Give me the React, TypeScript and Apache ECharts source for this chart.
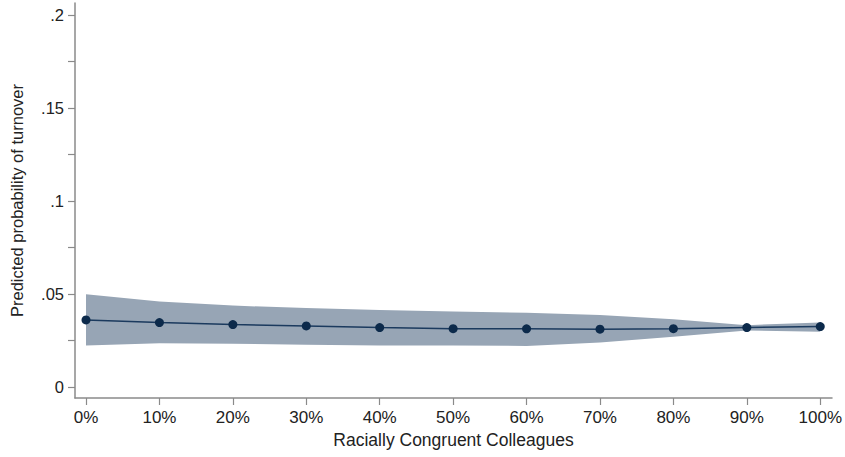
import React, { useEffect, useRef } from "react";
import * as echarts from "echarts";

// Share of racially congruent colleagues (%)
const shares = [0, 10, 20, 30, 40, 50, 60, 70, 80, 90, 100];
// Predicted probability of turnover and its confidence bounds
const predicted = [0.036, 0.0346, 0.0335, 0.0328, 0.0319, 0.0313, 0.0312, 0.031, 0.0313, 0.0319, 0.0324];
const upperBound = [0.0498, 0.0459, 0.0437, 0.0424, 0.0414, 0.0406, 0.0398, 0.0387, 0.0364, 0.0332, 0.0346];
const lowerBound = [0.0222, 0.0235, 0.0232, 0.0226, 0.0222, 0.0222, 0.022, 0.0238, 0.027, 0.0303, 0.0297];
const yLabelValues = [0, 0.05, 0.1, 0.15, 0.2];
const yTickValues = [0, 0.025, 0.05, 0.075, 0.1, 0.125, 0.15, 0.175, 0.2];

const fmtProb = (v: number) => {
  if (Math.abs(v) < 1e-9) return "0";
  return String(Math.round(v * 1000) / 1000).replace(/^0/, "");
};

export default function App() {
  const ref = useRef<HTMLDivElement>(null);

  useEffect(() => {
    if (!ref.current) return;
    const chart = echarts.init(ref.current, undefined, { renderer: "svg" });
    const axisGray = "#8a8a8a";
    const textColor = "#222";
    const font = "Liberation Sans, Arial, sans-serif";

    chart.setOption({
      animation: false,
      backgroundColor: "#fff",
      grid: { left: 75, right: 13, top: 3, bottom: 59 },
      xAxis: {
        type: "value",
        min: -1.5,
        max: 101.6,
        name: "Racially Congruent Colleagues",
        nameLocation: "middle",
        nameGap: 33,
        nameTextStyle: { color: textColor, fontSize: 17.5, fontFamily: font },
        splitLine: { show: false },
        axisLine: { show: true, onZero: false, lineStyle: { color: axisGray, width: 1.5 } },
        axisTick: {
          show: true,
          length: 7,
          lineStyle: { color: axisGray, width: 1.2 },
          customValues: shares,
        },
        axisLabel: {
          color: textColor,
          fontSize: 17,
          fontFamily: font,
          margin: 11,
          customValues: shares,
          formatter: (v: number) => `${v}%`,
        },
      },
      yAxis: {
        type: "value",
        min: -0.006,
        max: 0.2065,
        name: "Predicted probability of turnover",
        nameLocation: "middle",
        nameGap: 50,
        nameTextStyle: { color: textColor, fontSize: 16.5, fontFamily: font },
        splitLine: { show: false },
        axisLine: { show: true, onZero: false, lineStyle: { color: axisGray, width: 1.5 } },
        axisTick: {
          show: true,
          length: 7,
          lineStyle: { color: axisGray, width: 1.2 },
          customValues: yTickValues,
        },
        axisLabel: {
          color: textColor,
          fontSize: 16.5,
          fontFamily: font,
          margin: 11,
          customValues: yLabelValues,
          formatter: fmtProb,
        },
      },
      series: [
        {
          type: "custom",
          silent: true,
          z: 1,
          data: [0],
          renderItem: (_params: any, api: any) => {
            const top = shares.map((s, i) => api.coord([s, upperBound[i]]));
            const bottom = shares
              .map((s, i) => api.coord([s, lowerBound[i]]))
              .reverse();
            return {
              type: "polygon",
              shape: { points: top.concat(bottom) },
              style: { fill: "#97a5b5", stroke: "none" },
            };
          },
        },
        {
          type: "line",
          z: 3,
          data: shares.map((s, i) => [s, predicted[i]]),
          symbol: "circle",
          symbolSize: 9,
          showSymbol: true,
          lineStyle: { color: "#1b3a5e", width: 1.5 },
          itemStyle: { color: "#0c2a4b", borderWidth: 0 },
        },
      ],
    });

    return () => chart.dispose();
  }, []);

  return (
    <div
      ref={ref}
      style={{ position: "fixed", left: 0, top: 0, width: 845, height: 457 }}
    />
  );
}
